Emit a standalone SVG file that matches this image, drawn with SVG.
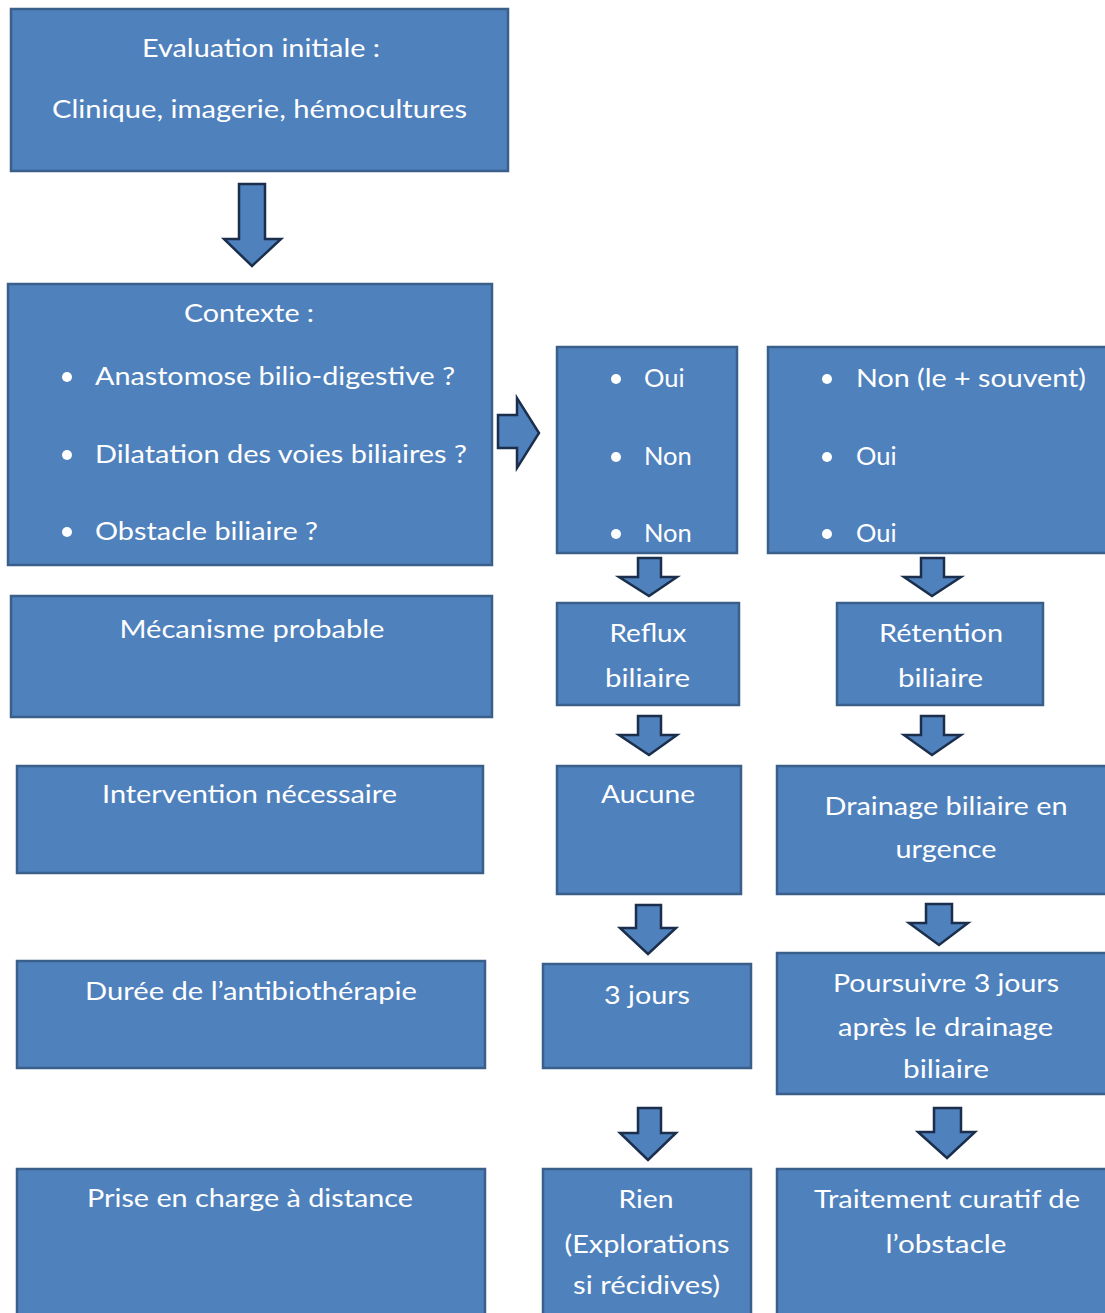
<svg xmlns="http://www.w3.org/2000/svg" width="1105" height="1313" viewBox="0 0 1105 1313">
<style>
.box{fill:#4F81BD;stroke:#3A5F8B;stroke-width:2.5}
.arr{fill:#4F81BD;stroke:#1B2F4C;stroke-width:2.5;stroke-linejoin:miter}
text{font-family:Lato,"Open Sans","Liberation Sans",sans-serif;font-size:25.5px;fill:#FFFFFF}
.c{text-anchor:middle}
.dot{fill:#FFFFFF}
</style>
<rect width="1105" height="1313" fill="#FFFFFF"/>
<g id="connectors">
<path class="arr" d="M239,184 H265 V239 H281 L252,266 L224,239 H239 Z"/>
<path class="arr" d="M498,415 H517 V398 L539,433 L517,468 V448 H498 Z"/>
<path class="arr" d="M638,558 H661 V577 H677 L649,596 L619,577 H638 Z"/>
<path class="arr" d="M921,558 H944 V577 H961 L932,596 L904,577 H921 Z"/>
<path class="arr" d="M638,716 H661 V735 H677 L649,755 L619,735 H638 Z"/>
<path class="arr" d="M921,716 H944 V735 H961 L932,755 L904,735 H921 Z"/>
<path class="arr" d="M636,905 H661 V928 H676 L648,954 L620,928 H636 Z"/>
<path class="arr" d="M926,904 H952 V923 H968 L939,945 L909,923 H926 Z"/>
<path class="arr" d="M638,1108 H661 V1133 H676 L648,1160 L620,1133 H638 Z"/>
<path class="arr" d="M934,1108 H961 V1132 H975 L947,1158 L918,1132 H934 Z"/>
</g>
<g id="n-evaluation">
<rect class="box" x="11" y="9" width="497" height="162"/>
<text class="c" x="261" y="57" textLength="238" lengthAdjust="spacingAndGlyphs">Evaluation initiale :</text>
<text class="c" x="259.5" y="118" textLength="415" lengthAdjust="spacingAndGlyphs">Clinique, imagerie, hémocultures</text>
</g>
<g id="n-contexte">
<rect class="box" x="8" y="284" width="484" height="281"/>
<text class="c" x="249" y="322" textLength="130" lengthAdjust="spacingAndGlyphs">Contexte :</text>
<circle class="dot" cx="67" cy="377" r="5"/>
<text x="95" y="385" textLength="360" lengthAdjust="spacingAndGlyphs">Anastomose bilio-digestive ?</text>
<circle class="dot" cx="67" cy="455" r="5"/>
<text x="95" y="463" textLength="372" lengthAdjust="spacingAndGlyphs">Dilatation des voies biliaires ?</text>
<circle class="dot" cx="67" cy="532" r="5"/>
<text x="95" y="540" textLength="223" lengthAdjust="spacingAndGlyphs">Obstacle biliaire ?</text>
</g>
<g id="n-oui-non-non">
<rect class="box" x="557" y="347" width="180" height="206"/>
<circle class="dot" cx="616" cy="379" r="5"/>
<text x="644" y="387">Oui</text>
<circle class="dot" cx="616" cy="457" r="5"/>
<text x="644" y="465">Non</text>
<circle class="dot" cx="616" cy="534" r="5"/>
<text x="644" y="542">Non</text>
</g>
<g id="n-non-oui-oui">
<rect class="box" x="768" y="347" width="350" height="206"/>
<circle class="dot" cx="827" cy="379" r="5"/>
<text x="856" y="387" textLength="230" lengthAdjust="spacingAndGlyphs">Non (le + souvent)</text>
<circle class="dot" cx="827" cy="457" r="5"/>
<text x="856" y="465">Oui</text>
<circle class="dot" cx="827" cy="534" r="5"/>
<text x="856" y="542">Oui</text>
</g>
<g id="n-mecanisme">
<rect class="box" x="11" y="596" width="481" height="121"/>
<text class="c" x="252" y="638" textLength="265" lengthAdjust="spacingAndGlyphs">Mécanisme probable</text>
</g>
<g id="n-reflux">
<rect class="box" x="557" y="603" width="182" height="102"/>
<text class="c" x="648" y="642" textLength="77" lengthAdjust="spacingAndGlyphs">Reflux</text>
<text class="c" x="647.5" y="687" textLength="85" lengthAdjust="spacingAndGlyphs">biliaire</text>
</g>
<g id="n-retention">
<rect class="box" x="837" y="603" width="206" height="102"/>
<text class="c" x="941" y="642" textLength="124" lengthAdjust="spacingAndGlyphs">Rétention</text>
<text class="c" x="940.5" y="687" textLength="85" lengthAdjust="spacingAndGlyphs">biliaire</text>
</g>
<g id="n-intervention">
<rect class="box" x="17" y="766" width="466" height="107"/>
<text class="c" x="249.5" y="803" textLength="295" lengthAdjust="spacingAndGlyphs">Intervention nécessaire</text>
</g>
<g id="n-aucune">
<rect class="box" x="557" y="766" width="184" height="128"/>
<text class="c" x="648" y="803" textLength="94" lengthAdjust="spacingAndGlyphs">Aucune</text>
</g>
<g id="n-drainage">
<rect class="box" x="777" y="766" width="340" height="128"/>
<text class="c" x="946" y="815" textLength="243" lengthAdjust="spacingAndGlyphs">Drainage biliaire en</text>
<text class="c" x="946" y="858" textLength="101" lengthAdjust="spacingAndGlyphs">urgence</text>
</g>
<g id="n-duree">
<rect class="box" x="17" y="961" width="468" height="107"/>
<text class="c" x="251" y="1000" textLength="332" lengthAdjust="spacingAndGlyphs">Durée de l’antibiothérapie</text>
</g>
<g id="n-3jours">
<rect class="box" x="543" y="964" width="208" height="104"/>
<text class="c" x="647" y="1004" textLength="86" lengthAdjust="spacingAndGlyphs">3 jours</text>
</g>
<g id="n-poursuivre">
<rect class="box" x="777" y="953" width="340" height="141"/>
<text class="c" x="946" y="992" textLength="226" lengthAdjust="spacingAndGlyphs">Poursuivre 3 jours</text>
<text class="c" x="945.5" y="1036" textLength="215" lengthAdjust="spacingAndGlyphs">après le drainage</text>
<text class="c" x="946" y="1078" textLength="86" lengthAdjust="spacingAndGlyphs">biliaire</text>
</g>
<g id="n-prise">
<rect class="box" x="17" y="1169" width="468" height="160"/>
<text class="c" x="250" y="1207" textLength="326" lengthAdjust="spacingAndGlyphs">Prise en charge à distance</text>
</g>
<g id="n-rien">
<rect class="box" x="543" y="1169" width="208" height="160"/>
<text class="c" x="646" y="1208" textLength="55" lengthAdjust="spacingAndGlyphs">Rien</text>
<text class="c" x="647" y="1253" textLength="165" lengthAdjust="spacingAndGlyphs">(Explorations</text>
<text class="c" x="646.5" y="1294" textLength="147" lengthAdjust="spacingAndGlyphs">si récidives)</text>
</g>
<g id="n-traitement">
<rect class="box" x="777" y="1169" width="340" height="160"/>
<text class="c" x="947" y="1208" textLength="266" lengthAdjust="spacingAndGlyphs">Traitement curatif de</text>
<text class="c" x="946" y="1253" textLength="121" lengthAdjust="spacingAndGlyphs">l’obstacle</text>
</g>
</svg>
